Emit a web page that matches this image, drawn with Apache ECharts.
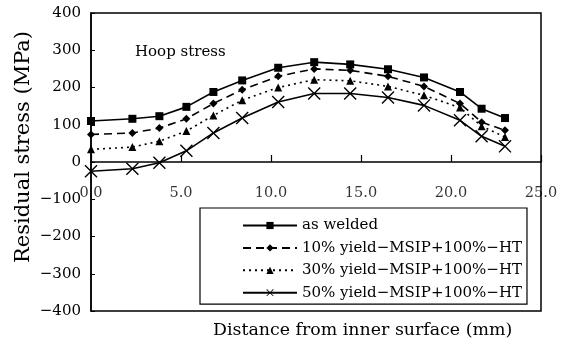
<!DOCTYPE html>
<html><head><meta charset="utf-8">
<script src="https://cdn.jsdelivr.net/npm/echarts@6/dist/echarts.min.js"></script>
<style>html,body{margin:0;padding:0;background:#fff}#c{width:566px;height:350px}</style>
</head><body><div id="c"></div>
<script>
const distance = [0.0, 2.3, 3.8, 5.3, 6.8, 8.4, 10.4, 12.4, 14.4, 16.5, 18.5, 20.5, 21.7, 23.0];
const asWelded = [110, 116, 123, 148, 188, 219, 253, 268, 262, 249, 227, 188, 143, 118];
const msip10 = [74, 78, 91, 116, 157, 194, 230, 250, 246, 230, 203, 157, 107, 85];
const msip30 = [34, 40, 56, 83, 125, 166, 200, 221, 218, 203, 179, 146, 96, 67];
const msip50 = [-25, -18, -2, 30, 78, 118, 161, 184, 184, 173, 152, 112, 69, 42];
const seriesNames = ['as welded', '10% yield\u2212MSIP+100%\u2212HT', '30% yield\u2212MSIP+100%\u2212HT', '50% yield\u2212MSIP+100%\u2212HT'];
const xTicks = [0, 5, 10, 15, 20, 25];
const yTicks = [-400, -300, -200, -100, 0, 100, 200, 300, 400];
const annotation = 'Hoop stress';
const xTitle = 'Distance from inner surface (mm)';
const yTitle = 'Residual stress (MPa)';

const FONT = '"DejaVu Serif", "Liberation Serif", serif';
const pair = ys => distance.map((x, i) => [x, ys[i]]);
const xPath = 'path://M0,0.15L0.15,0L1,0.85L1.85,0L2,0.15L1.15,1L2,1.85L1.85,2L1,1.15L0.15,2L0,1.85L0.85,1Z';

const chart = echarts.init(document.getElementById('c'));
const mk = (name, data, symbol, size, ltype) => ({
  name, type: 'line', data: pair(data), symbol, symbolSize: size,
  itemStyle: { color: '#000' },
  lineStyle: { color: '#000', width: 1.6, type: ltype },
  animation: false
});
chart.setOption({
  backgroundColor: '#fff',
  animation: false,
  grid: { left: 91, right: 25, top: 13, bottom: 39, show: true, borderColor: '#000', borderWidth: 1.5 },
  xAxis: {
    type: 'value', min: xTicks[0], max: xTicks[xTicks.length - 1], interval: 5,
    axisLine: { onZero: true, lineStyle: { color: '#000', width: 1.5 } },
    axisTick: { show: true, inside: true, length: 7, lineStyle: { color: '#000', width: 1.2 } },
    axisLabel: { show: false },
    splitLine: { show: false }
  },
  yAxis: {
    type: 'value', min: yTicks[0], max: yTicks[yTicks.length - 1], interval: 100,
    axisLine: { show: true, lineStyle: { color: '#000', width: 1.5 } },
    axisTick: { show: true, inside: true, length: 4, lineStyle: { color: '#000' } },
    axisLabel: { formatter: v => String(v).replace('-', '\u2212'), fontFamily: FONT, fontSize: 15, color: '#000', margin: 10 },
    splitLine: { show: false }
  },
  legend: {
    orient: 'vertical', left: 200, top: 208,
    padding: [10, 5, 4, 42], itemGap: 7.4, itemWidth: 54, itemHeight: 9,
    borderColor: '#000', borderWidth: 1.2, backgroundColor: '#fff',
    textStyle: { fontFamily: FONT, fontSize: 15, color: '#000' },
    data: seriesNames
  },
  graphic: [
    { type: 'text', left: 135, top: 45, style: { text: annotation, font: '15px ' + FONT, fill: '#000' } },
    { type: 'text', left: 213, top: 322, style: { text: xTitle, font: '17.4px ' + FONT, fill: '#000' } },
    { type: 'text', x: 24, y: 147, rotation: Math.PI / 2,
      style: { text: yTitle, font: '21px ' + FONT, fill: '#000', textAlign: 'center', textVerticalAlign: 'middle' } }
  ],
  series: [
    mk(seriesNames[0], asWelded, 'rect', 8, 'solid'),
    mk(seriesNames[1], msip10, 'diamond', 8, [8, 5]),
    mk(seriesNames[2], msip30, 'triangle', 8, [2, 4]),
    mk(seriesNames[3], msip50, xPath, 13, 'solid'),
    {
      name: 'xTickLabels', type: 'scatter', silent: true, symbolSize: 0, z: 10,
      data: xTicks.map(x => [x, 0]),
      label: { show: true, position: 'bottom', distance: 24, formatter: p => p.value[0].toFixed(1),
        fontFamily: FONT, fontSize: 14.5, color: '#000' }
    }
  ]
});
</script></body></html>
